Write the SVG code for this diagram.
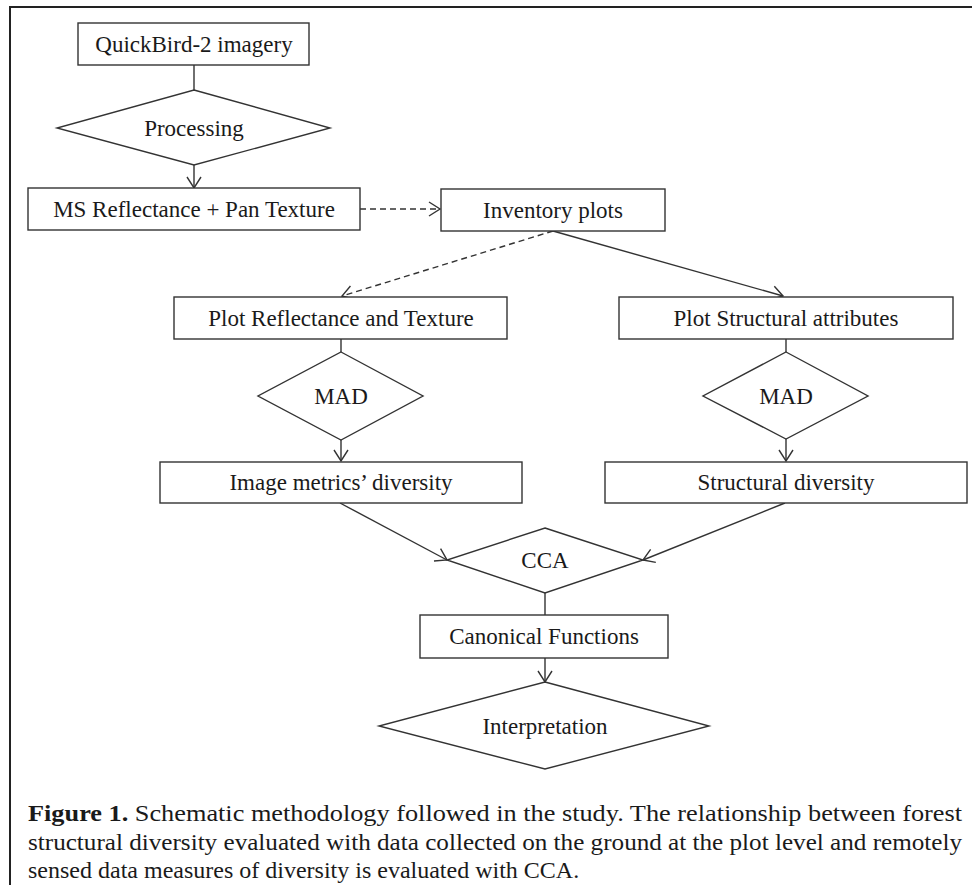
<svg xmlns="http://www.w3.org/2000/svg" width="972" height="885" viewBox="0 0 972 885">
<style>
.box{fill:#fff;stroke:#333;stroke-width:1.4}
.lbl{font-family:"Liberation Serif","Times New Roman",serif;font-size:23px;fill:#1a1a1a;text-anchor:middle}
.ln{fill:none;stroke:#333;stroke-width:1.4}
.dash{stroke-dasharray:6 4}
.cap{font-family:"Liberation Serif","Times New Roman",serif;font-size:24px;fill:#1a1a1a}
</style>
<defs>
<marker id="arr" markerWidth="14" markerHeight="16" refX="12" refY="8" orient="auto" markerUnits="userSpaceOnUse" viewBox="0 0 14 16">
<path d="M1,1 L12,8 L1,15" fill="none" stroke="#333" stroke-width="1.4"/>
</marker>
</defs>
<rect width="972" height="885" fill="#fff"/>
<path d="M10,885 L10,7 L972,7" fill="none" stroke="#222" stroke-width="2"/>
<g id="connectors">
<line class="ln" x1="194" y1="65" x2="194" y2="90"/>
<line class="ln" x1="194" y1="165" x2="194" y2="188" marker-end="url(#arr)"/>
<line class="ln dash" x1="360" y1="209" x2="440" y2="209" marker-end="url(#arr)"/>
<line class="ln dash" x1="553" y1="231" x2="342" y2="296" marker-end="url(#arr)"/>
<line class="ln" x1="553" y1="231" x2="783" y2="296" marker-end="url(#arr)"/>
<line class="ln" x1="341" y1="339" x2="341" y2="352"/>
<line class="ln" x1="341" y1="440" x2="341" y2="461" marker-end="url(#arr)"/>
<line class="ln" x1="786" y1="339" x2="786" y2="352"/>
<line class="ln" x1="786" y1="439" x2="786" y2="461" marker-end="url(#arr)"/>
<line class="ln" x1="340" y1="503" x2="447" y2="560" marker-end="url(#arr)"/>
<line class="ln" x1="785" y1="503" x2="643" y2="560" marker-end="url(#arr)"/>
<line class="ln" x1="545" y1="593" x2="545" y2="615"/>
<line class="ln" x1="545" y1="658" x2="545" y2="682" marker-end="url(#arr)"/>
</g>
<g id="quickbird"><rect class="box" x="78" y="23" width="231" height="42"/><text class="lbl" x="194" y="52">QuickBird-2 imagery</text></g>
<g id="processing"><polygon class="box" points="194,90 330,128 194,165 57,128"/><text class="lbl" x="194" y="136">Processing</text></g>
<g id="ms"><rect class="box" x="28" y="188" width="332" height="42"/><text class="lbl" x="194" y="217">MS Reflectance + Pan Texture</text></g>
<g id="inventory"><rect class="box" x="441" y="189" width="224" height="42"/><text class="lbl" x="553" y="218">Inventory plots</text></g>
<g id="plotrefl"><rect class="box" x="174" y="297" width="333" height="42"/><text class="lbl" x="341" y="326">Plot Reflectance and Texture</text></g>
<g id="plotstruct"><rect class="box" x="619" y="297" width="334" height="42"/><text class="lbl" x="786" y="326">Plot Structural attributes</text></g>
<g id="mad1"><polygon class="box" points="341,352 423,396 341,440 258,396"/><text class="lbl" x="341" y="404">MAD</text></g>
<g id="mad2"><polygon class="box" points="786,352 868,396 786,439 703,396"/><text class="lbl" x="786" y="404">MAD</text></g>
<g id="imgdiv"><rect class="box" x="160" y="462" width="362" height="41"/><text class="lbl" x="341" y="490">Image metrics’ diversity</text></g>
<g id="structdiv"><rect class="box" x="605" y="462" width="362" height="41"/><text class="lbl" x="786" y="490">Structural diversity</text></g>
<g id="cca"><polygon class="box" points="545,528 643,560 545,593 447,560"/><text class="lbl" x="545" y="568">CCA</text></g>
<g id="canonical"><rect class="box" x="420" y="615" width="248" height="43"/><text class="lbl" x="544" y="644">Canonical Functions</text></g>
<g id="interp"><polygon class="box" points="545,682 709,726 545,769 379,726"/><text class="lbl" x="545" y="734">Interpretation</text></g>
<g id="caption">
<text class="cap" x="28" y="821" textLength="934" lengthAdjust="spacingAndGlyphs"><tspan font-weight="bold">Figure 1.</tspan> Schematic methodology followed in the study. The relationship between forest</text>
<text class="cap" x="28" y="850" textLength="934" lengthAdjust="spacingAndGlyphs">structural diversity evaluated with data collected on the ground at the plot level and remotely</text>
<text class="cap" x="28" y="878">sensed data measures of diversity is evaluated with CCA.</text>
</g>
</svg>
